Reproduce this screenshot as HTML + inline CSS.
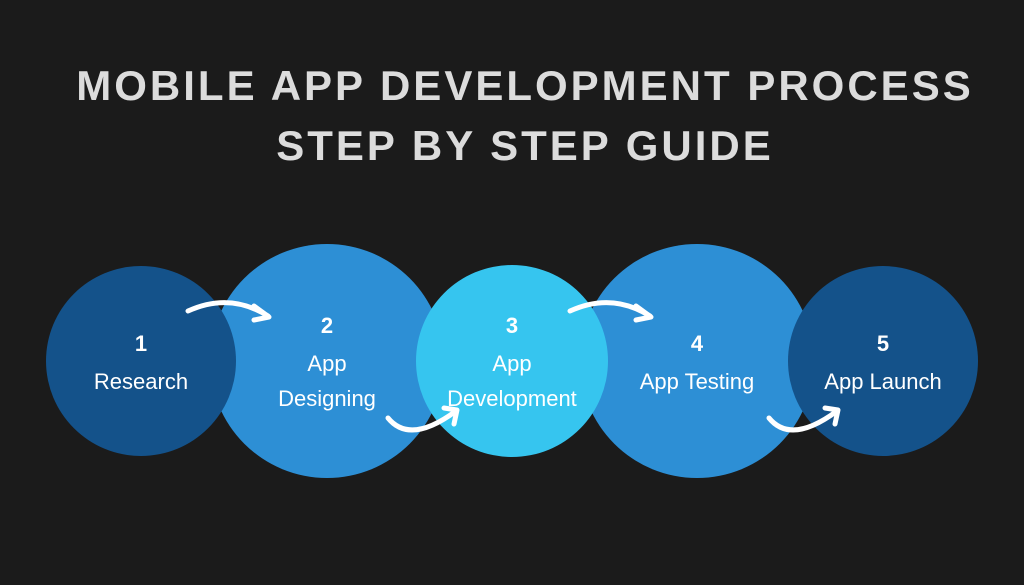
<!DOCTYPE html>
<html><head><meta charset="utf-8"><style>
html,body{margin:0;padding:0;background:#1b1b1b;width:1024px;height:585px;overflow:hidden}
svg{display:block}
</style></head><body>
<svg width="1024" height="585" viewBox="0 0 1024 585" xmlns="http://www.w3.org/2000/svg">
<rect width="1024" height="585" fill="#1b1b1b"/>
<g font-family="Liberation Sans, sans-serif" font-weight="bold" fill="#dcdcdc" font-size="42" text-anchor="middle" letter-spacing="3">
<text x="525" y="100">MOBILE APP DEVELOPMENT PROCESS</text>
<text x="525" y="160">STEP BY STEP GUIDE</text>
</g>
<circle cx="327" cy="361" r="117" fill="#2d8fd5"/>
<circle cx="697" cy="361" r="117" fill="#2d8fd5"/>
<circle cx="141" cy="361" r="95" fill="#14528a"/>
<circle cx="512" cy="361" r="96" fill="#36c5ef"/>
<circle cx="883" cy="361" r="95" fill="#14528a"/>
<g fill="none" stroke="#fff" stroke-width="5" stroke-linecap="round" stroke-linejoin="round">
<path d="M188 311 Q230 292 268 316"/><path d="M254 306 L269 317 L254 320"/>
<path d="M388 418 Q410 445 456 411"/><path d="M444 408 L457 410 L454 424"/>
<path d="M570 311 Q612 292 650 316"/><path d="M636 306 L651 317 L636 320"/>
<path d="M769 418 Q791 445 837 411"/><path d="M825 408 L838 410 L835 424"/>
</g>
<g font-family="Liberation Sans, sans-serif" fill="#fff" text-anchor="middle" font-size="22">
<text x="141" y="351" font-weight="bold">1</text>
<text x="141" y="389">Research</text>
<text x="327" y="333" font-weight="bold">2</text>
<text x="327" y="371">App</text>
<text x="327" y="406">Designing</text>
<text x="512" y="333" font-weight="bold">3</text>
<text x="512" y="371">App</text>
<text x="512" y="406">Development</text>
<text x="697" y="351" font-weight="bold">4</text>
<text x="697" y="389">App Testing</text>
<text x="883" y="351" font-weight="bold">5</text>
<text x="883" y="389">App Launch</text>
</g>
</svg>
</body></html>
